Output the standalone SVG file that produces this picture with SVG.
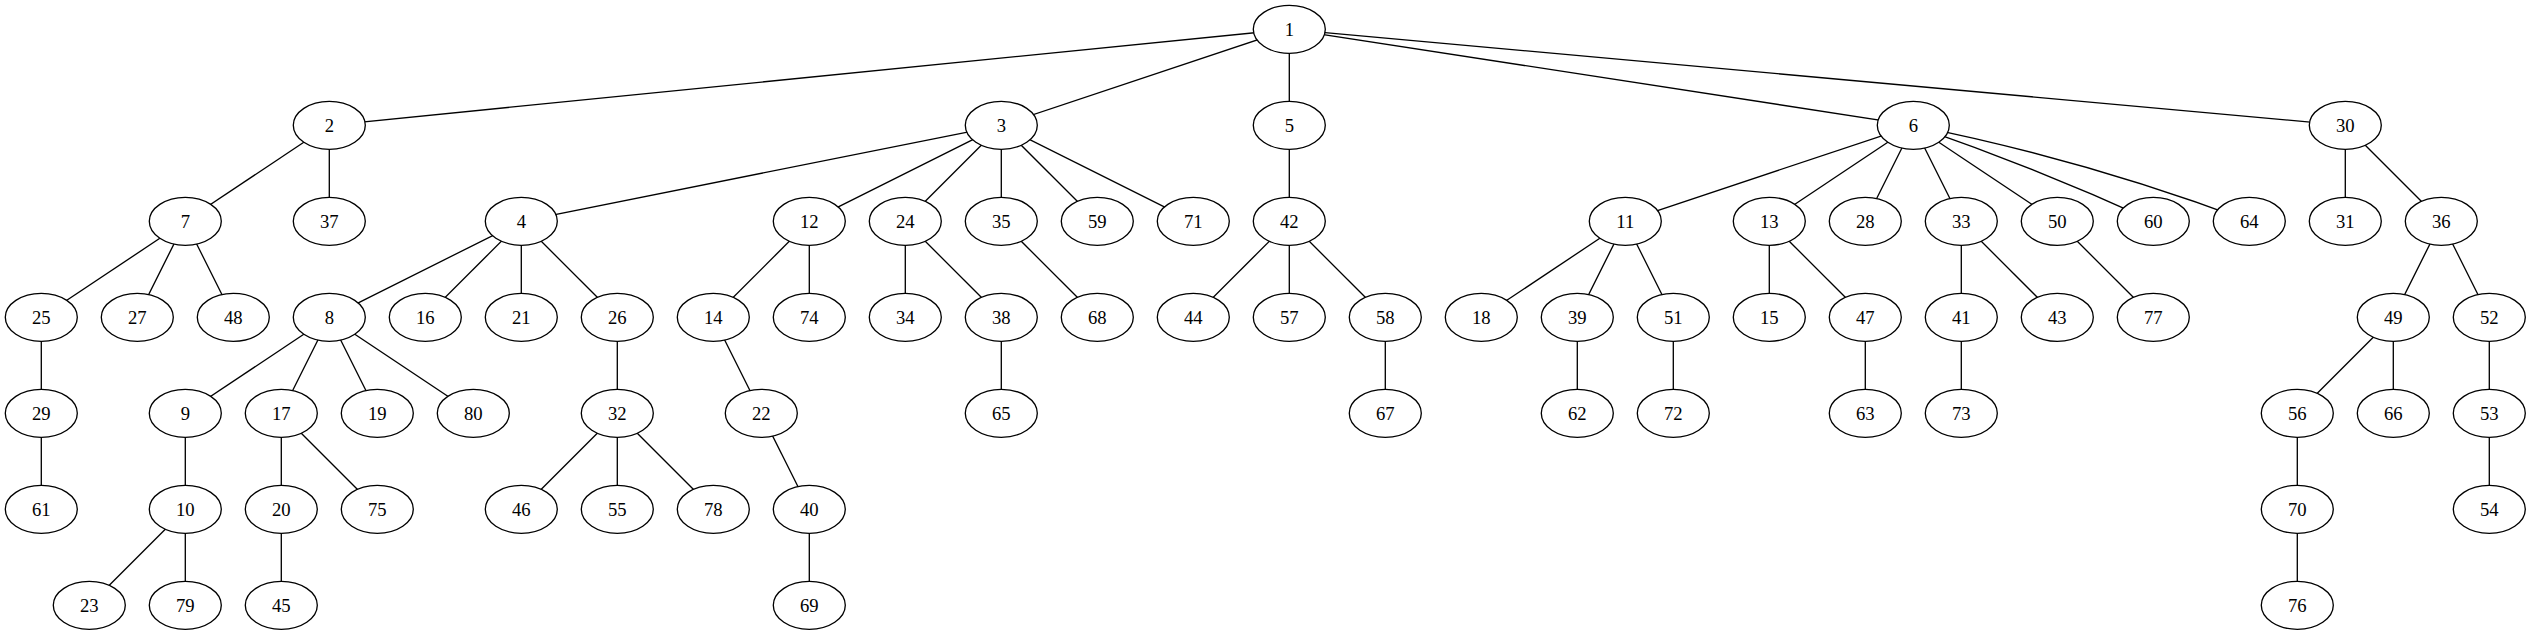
<svg xmlns="http://www.w3.org/2000/svg" width="2531" height="635" viewBox="0 0 2531 635">
<style>
.node ellipse{fill:#fff;stroke:#000;stroke-width:1.33}
.node text{font-family:"Liberation Serif","Times New Roman",serif;font-size:18.67px;text-anchor:middle;fill:#000}
#edges line,#edges path{stroke:#000;stroke-width:1.33;fill:none}
</style>
<rect width="2531" height="635" fill="#fff"/>
<g id="edges">
<line x1="1289.3" y1="29.3" x2="329.3" y2="125.3"/>
<line x1="1289.3" y1="29.3" x2="1001.3" y2="125.3"/>
<line x1="1289.3" y1="29.3" x2="1289.3" y2="125.3"/>
<line x1="1289.3" y1="29.3" x2="1913.3" y2="125.3"/>
<line x1="1289.3" y1="29.3" x2="2345.3" y2="125.3"/>
<line x1="329.3" y1="125.3" x2="185.3" y2="221.3"/>
<line x1="329.3" y1="125.3" x2="329.3" y2="221.3"/>
<line x1="185.3" y1="221.3" x2="41.3" y2="317.3"/>
<line x1="185.3" y1="221.3" x2="137.3" y2="317.3"/>
<line x1="185.3" y1="221.3" x2="233.3" y2="317.3"/>
<line x1="41.3" y1="317.3" x2="41.3" y2="413.3"/>
<line x1="41.3" y1="413.3" x2="41.3" y2="509.3"/>
<line x1="1001.3" y1="125.3" x2="521.3" y2="221.3"/>
<line x1="1001.3" y1="125.3" x2="809.3" y2="221.3"/>
<line x1="1001.3" y1="125.3" x2="905.3" y2="221.3"/>
<line x1="1001.3" y1="125.3" x2="1001.3" y2="221.3"/>
<line x1="1001.3" y1="125.3" x2="1097.3" y2="221.3"/>
<line x1="1001.3" y1="125.3" x2="1193.3" y2="221.3"/>
<line x1="521.3" y1="221.3" x2="329.3" y2="317.3"/>
<line x1="521.3" y1="221.3" x2="425.3" y2="317.3"/>
<line x1="521.3" y1="221.3" x2="521.3" y2="317.3"/>
<line x1="521.3" y1="221.3" x2="617.3" y2="317.3"/>
<line x1="329.3" y1="317.3" x2="185.3" y2="413.3"/>
<line x1="329.3" y1="317.3" x2="281.3" y2="413.3"/>
<line x1="329.3" y1="317.3" x2="377.3" y2="413.3"/>
<line x1="329.3" y1="317.3" x2="473.3" y2="413.3"/>
<line x1="185.3" y1="413.3" x2="185.3" y2="509.3"/>
<line x1="185.3" y1="509.3" x2="89.3" y2="605.3"/>
<line x1="185.3" y1="509.3" x2="185.3" y2="605.3"/>
<line x1="281.3" y1="413.3" x2="281.3" y2="509.3"/>
<line x1="281.3" y1="413.3" x2="377.3" y2="509.3"/>
<line x1="281.3" y1="509.3" x2="281.3" y2="605.3"/>
<line x1="617.3" y1="317.3" x2="617.3" y2="413.3"/>
<line x1="617.3" y1="413.3" x2="521.3" y2="509.3"/>
<line x1="617.3" y1="413.3" x2="617.3" y2="509.3"/>
<line x1="617.3" y1="413.3" x2="713.3" y2="509.3"/>
<line x1="809.3" y1="221.3" x2="713.3" y2="317.3"/>
<line x1="809.3" y1="221.3" x2="809.3" y2="317.3"/>
<line x1="713.3" y1="317.3" x2="761.3" y2="413.3"/>
<line x1="761.3" y1="413.3" x2="809.3" y2="509.3"/>
<line x1="809.3" y1="509.3" x2="809.3" y2="605.3"/>
<line x1="905.3" y1="221.3" x2="905.3" y2="317.3"/>
<line x1="905.3" y1="221.3" x2="1001.3" y2="317.3"/>
<line x1="1001.3" y1="317.3" x2="1001.3" y2="413.3"/>
<line x1="1001.3" y1="221.3" x2="1097.3" y2="317.3"/>
<line x1="1289.3" y1="125.3" x2="1289.3" y2="221.3"/>
<line x1="1289.3" y1="221.3" x2="1193.3" y2="317.3"/>
<line x1="1289.3" y1="221.3" x2="1289.3" y2="317.3"/>
<line x1="1289.3" y1="221.3" x2="1385.3" y2="317.3"/>
<line x1="1385.3" y1="317.3" x2="1385.3" y2="413.3"/>
<line x1="1913.3" y1="125.3" x2="1625.3" y2="221.3"/>
<line x1="1913.3" y1="125.3" x2="1769.3" y2="221.3"/>
<line x1="1913.3" y1="125.3" x2="1865.3" y2="221.3"/>
<line x1="1913.3" y1="125.3" x2="1961.3" y2="221.3"/>
<line x1="1913.3" y1="125.3" x2="2057.3" y2="221.3"/>
<path d="M1913.3,125.3 Q2035.5,167.7 2153.3,221.3"/>
<path d="M1913.3,125.3 Q2085,159.5 2249.3,221.3"/>
<line x1="1625.3" y1="221.3" x2="1481.3" y2="317.3"/>
<line x1="1625.3" y1="221.3" x2="1577.3" y2="317.3"/>
<line x1="1625.3" y1="221.3" x2="1673.3" y2="317.3"/>
<line x1="1577.3" y1="317.3" x2="1577.3" y2="413.3"/>
<line x1="1673.3" y1="317.3" x2="1673.3" y2="413.3"/>
<line x1="1769.3" y1="221.3" x2="1769.3" y2="317.3"/>
<line x1="1769.3" y1="221.3" x2="1865.3" y2="317.3"/>
<line x1="1865.3" y1="317.3" x2="1865.3" y2="413.3"/>
<line x1="1961.3" y1="221.3" x2="1961.3" y2="317.3"/>
<line x1="1961.3" y1="221.3" x2="2057.3" y2="317.3"/>
<line x1="1961.3" y1="317.3" x2="1961.3" y2="413.3"/>
<line x1="2057.3" y1="221.3" x2="2153.3" y2="317.3"/>
<line x1="2345.3" y1="125.3" x2="2345.3" y2="221.3"/>
<line x1="2345.3" y1="125.3" x2="2441.3" y2="221.3"/>
<line x1="2441.3" y1="221.3" x2="2393.3" y2="317.3"/>
<line x1="2441.3" y1="221.3" x2="2489.3" y2="317.3"/>
<line x1="2393.3" y1="317.3" x2="2297.3" y2="413.3"/>
<line x1="2393.3" y1="317.3" x2="2393.3" y2="413.3"/>
<line x1="2297.3" y1="413.3" x2="2297.3" y2="509.3"/>
<line x1="2297.3" y1="509.3" x2="2297.3" y2="605.3"/>
<line x1="2489.3" y1="317.3" x2="2489.3" y2="413.3"/>
<line x1="2489.3" y1="413.3" x2="2489.3" y2="509.3"/>
</g>
<g id="n1" class="node"><ellipse cx="1289.3" cy="29.3" rx="36" ry="24"/><text x="1289.3" y="35.8">1</text></g>
<g id="n2" class="node"><ellipse cx="329.3" cy="125.3" rx="36" ry="24"/><text x="329.3" y="131.8">2</text></g>
<g id="n3" class="node"><ellipse cx="1001.3" cy="125.3" rx="36" ry="24"/><text x="1001.3" y="131.8">3</text></g>
<g id="n5" class="node"><ellipse cx="1289.3" cy="125.3" rx="36" ry="24"/><text x="1289.3" y="131.8">5</text></g>
<g id="n6" class="node"><ellipse cx="1913.3" cy="125.3" rx="36" ry="24"/><text x="1913.3" y="131.8">6</text></g>
<g id="n30" class="node"><ellipse cx="2345.3" cy="125.3" rx="36" ry="24"/><text x="2345.3" y="131.8">30</text></g>
<g id="n7" class="node"><ellipse cx="185.3" cy="221.3" rx="36" ry="24"/><text x="185.3" y="227.8">7</text></g>
<g id="n37" class="node"><ellipse cx="329.3" cy="221.3" rx="36" ry="24"/><text x="329.3" y="227.8">37</text></g>
<g id="n4" class="node"><ellipse cx="521.3" cy="221.3" rx="36" ry="24"/><text x="521.3" y="227.8">4</text></g>
<g id="n12" class="node"><ellipse cx="809.3" cy="221.3" rx="36" ry="24"/><text x="809.3" y="227.8">12</text></g>
<g id="n24" class="node"><ellipse cx="905.3" cy="221.3" rx="36" ry="24"/><text x="905.3" y="227.8">24</text></g>
<g id="n35" class="node"><ellipse cx="1001.3" cy="221.3" rx="36" ry="24"/><text x="1001.3" y="227.8">35</text></g>
<g id="n59" class="node"><ellipse cx="1097.3" cy="221.3" rx="36" ry="24"/><text x="1097.3" y="227.8">59</text></g>
<g id="n71" class="node"><ellipse cx="1193.3" cy="221.3" rx="36" ry="24"/><text x="1193.3" y="227.8">71</text></g>
<g id="n42" class="node"><ellipse cx="1289.3" cy="221.3" rx="36" ry="24"/><text x="1289.3" y="227.8">42</text></g>
<g id="n11" class="node"><ellipse cx="1625.3" cy="221.3" rx="36" ry="24"/><text x="1625.3" y="227.8">11</text></g>
<g id="n13" class="node"><ellipse cx="1769.3" cy="221.3" rx="36" ry="24"/><text x="1769.3" y="227.8">13</text></g>
<g id="n28" class="node"><ellipse cx="1865.3" cy="221.3" rx="36" ry="24"/><text x="1865.3" y="227.8">28</text></g>
<g id="n33" class="node"><ellipse cx="1961.3" cy="221.3" rx="36" ry="24"/><text x="1961.3" y="227.8">33</text></g>
<g id="n50" class="node"><ellipse cx="2057.3" cy="221.3" rx="36" ry="24"/><text x="2057.3" y="227.8">50</text></g>
<g id="n60" class="node"><ellipse cx="2153.3" cy="221.3" rx="36" ry="24"/><text x="2153.3" y="227.8">60</text></g>
<g id="n64" class="node"><ellipse cx="2249.3" cy="221.3" rx="36" ry="24"/><text x="2249.3" y="227.8">64</text></g>
<g id="n31" class="node"><ellipse cx="2345.3" cy="221.3" rx="36" ry="24"/><text x="2345.3" y="227.8">31</text></g>
<g id="n36" class="node"><ellipse cx="2441.3" cy="221.3" rx="36" ry="24"/><text x="2441.3" y="227.8">36</text></g>
<g id="n25" class="node"><ellipse cx="41.3" cy="317.3" rx="36" ry="24"/><text x="41.3" y="323.8">25</text></g>
<g id="n27" class="node"><ellipse cx="137.3" cy="317.3" rx="36" ry="24"/><text x="137.3" y="323.8">27</text></g>
<g id="n48" class="node"><ellipse cx="233.3" cy="317.3" rx="36" ry="24"/><text x="233.3" y="323.8">48</text></g>
<g id="n8" class="node"><ellipse cx="329.3" cy="317.3" rx="36" ry="24"/><text x="329.3" y="323.8">8</text></g>
<g id="n16" class="node"><ellipse cx="425.3" cy="317.3" rx="36" ry="24"/><text x="425.3" y="323.8">16</text></g>
<g id="n21" class="node"><ellipse cx="521.3" cy="317.3" rx="36" ry="24"/><text x="521.3" y="323.8">21</text></g>
<g id="n26" class="node"><ellipse cx="617.3" cy="317.3" rx="36" ry="24"/><text x="617.3" y="323.8">26</text></g>
<g id="n14" class="node"><ellipse cx="713.3" cy="317.3" rx="36" ry="24"/><text x="713.3" y="323.8">14</text></g>
<g id="n74" class="node"><ellipse cx="809.3" cy="317.3" rx="36" ry="24"/><text x="809.3" y="323.8">74</text></g>
<g id="n34" class="node"><ellipse cx="905.3" cy="317.3" rx="36" ry="24"/><text x="905.3" y="323.8">34</text></g>
<g id="n38" class="node"><ellipse cx="1001.3" cy="317.3" rx="36" ry="24"/><text x="1001.3" y="323.8">38</text></g>
<g id="n68" class="node"><ellipse cx="1097.3" cy="317.3" rx="36" ry="24"/><text x="1097.3" y="323.8">68</text></g>
<g id="n44" class="node"><ellipse cx="1193.3" cy="317.3" rx="36" ry="24"/><text x="1193.3" y="323.8">44</text></g>
<g id="n57" class="node"><ellipse cx="1289.3" cy="317.3" rx="36" ry="24"/><text x="1289.3" y="323.8">57</text></g>
<g id="n58" class="node"><ellipse cx="1385.3" cy="317.3" rx="36" ry="24"/><text x="1385.3" y="323.8">58</text></g>
<g id="n18" class="node"><ellipse cx="1481.3" cy="317.3" rx="36" ry="24"/><text x="1481.3" y="323.8">18</text></g>
<g id="n39" class="node"><ellipse cx="1577.3" cy="317.3" rx="36" ry="24"/><text x="1577.3" y="323.8">39</text></g>
<g id="n51" class="node"><ellipse cx="1673.3" cy="317.3" rx="36" ry="24"/><text x="1673.3" y="323.8">51</text></g>
<g id="n15" class="node"><ellipse cx="1769.3" cy="317.3" rx="36" ry="24"/><text x="1769.3" y="323.8">15</text></g>
<g id="n47" class="node"><ellipse cx="1865.3" cy="317.3" rx="36" ry="24"/><text x="1865.3" y="323.8">47</text></g>
<g id="n41" class="node"><ellipse cx="1961.3" cy="317.3" rx="36" ry="24"/><text x="1961.3" y="323.8">41</text></g>
<g id="n43" class="node"><ellipse cx="2057.3" cy="317.3" rx="36" ry="24"/><text x="2057.3" y="323.8">43</text></g>
<g id="n77" class="node"><ellipse cx="2153.3" cy="317.3" rx="36" ry="24"/><text x="2153.3" y="323.8">77</text></g>
<g id="n49" class="node"><ellipse cx="2393.3" cy="317.3" rx="36" ry="24"/><text x="2393.3" y="323.8">49</text></g>
<g id="n52" class="node"><ellipse cx="2489.3" cy="317.3" rx="36" ry="24"/><text x="2489.3" y="323.8">52</text></g>
<g id="n29" class="node"><ellipse cx="41.3" cy="413.3" rx="36" ry="24"/><text x="41.3" y="419.8">29</text></g>
<g id="n9" class="node"><ellipse cx="185.3" cy="413.3" rx="36" ry="24"/><text x="185.3" y="419.8">9</text></g>
<g id="n17" class="node"><ellipse cx="281.3" cy="413.3" rx="36" ry="24"/><text x="281.3" y="419.8">17</text></g>
<g id="n19" class="node"><ellipse cx="377.3" cy="413.3" rx="36" ry="24"/><text x="377.3" y="419.8">19</text></g>
<g id="n80" class="node"><ellipse cx="473.3" cy="413.3" rx="36" ry="24"/><text x="473.3" y="419.8">80</text></g>
<g id="n32" class="node"><ellipse cx="617.3" cy="413.3" rx="36" ry="24"/><text x="617.3" y="419.8">32</text></g>
<g id="n22" class="node"><ellipse cx="761.3" cy="413.3" rx="36" ry="24"/><text x="761.3" y="419.8">22</text></g>
<g id="n65" class="node"><ellipse cx="1001.3" cy="413.3" rx="36" ry="24"/><text x="1001.3" y="419.8">65</text></g>
<g id="n67" class="node"><ellipse cx="1385.3" cy="413.3" rx="36" ry="24"/><text x="1385.3" y="419.8">67</text></g>
<g id="n62" class="node"><ellipse cx="1577.3" cy="413.3" rx="36" ry="24"/><text x="1577.3" y="419.8">62</text></g>
<g id="n72" class="node"><ellipse cx="1673.3" cy="413.3" rx="36" ry="24"/><text x="1673.3" y="419.8">72</text></g>
<g id="n63" class="node"><ellipse cx="1865.3" cy="413.3" rx="36" ry="24"/><text x="1865.3" y="419.8">63</text></g>
<g id="n73" class="node"><ellipse cx="1961.3" cy="413.3" rx="36" ry="24"/><text x="1961.3" y="419.8">73</text></g>
<g id="n56" class="node"><ellipse cx="2297.3" cy="413.3" rx="36" ry="24"/><text x="2297.3" y="419.8">56</text></g>
<g id="n66" class="node"><ellipse cx="2393.3" cy="413.3" rx="36" ry="24"/><text x="2393.3" y="419.8">66</text></g>
<g id="n53" class="node"><ellipse cx="2489.3" cy="413.3" rx="36" ry="24"/><text x="2489.3" y="419.8">53</text></g>
<g id="n61" class="node"><ellipse cx="41.3" cy="509.3" rx="36" ry="24"/><text x="41.3" y="515.8">61</text></g>
<g id="n10" class="node"><ellipse cx="185.3" cy="509.3" rx="36" ry="24"/><text x="185.3" y="515.8">10</text></g>
<g id="n20" class="node"><ellipse cx="281.3" cy="509.3" rx="36" ry="24"/><text x="281.3" y="515.8">20</text></g>
<g id="n75" class="node"><ellipse cx="377.3" cy="509.3" rx="36" ry="24"/><text x="377.3" y="515.8">75</text></g>
<g id="n46" class="node"><ellipse cx="521.3" cy="509.3" rx="36" ry="24"/><text x="521.3" y="515.8">46</text></g>
<g id="n55" class="node"><ellipse cx="617.3" cy="509.3" rx="36" ry="24"/><text x="617.3" y="515.8">55</text></g>
<g id="n78" class="node"><ellipse cx="713.3" cy="509.3" rx="36" ry="24"/><text x="713.3" y="515.8">78</text></g>
<g id="n40" class="node"><ellipse cx="809.3" cy="509.3" rx="36" ry="24"/><text x="809.3" y="515.8">40</text></g>
<g id="n70" class="node"><ellipse cx="2297.3" cy="509.3" rx="36" ry="24"/><text x="2297.3" y="515.8">70</text></g>
<g id="n54" class="node"><ellipse cx="2489.3" cy="509.3" rx="36" ry="24"/><text x="2489.3" y="515.8">54</text></g>
<g id="n23" class="node"><ellipse cx="89.3" cy="605.3" rx="36" ry="24"/><text x="89.3" y="611.8">23</text></g>
<g id="n79" class="node"><ellipse cx="185.3" cy="605.3" rx="36" ry="24"/><text x="185.3" y="611.8">79</text></g>
<g id="n45" class="node"><ellipse cx="281.3" cy="605.3" rx="36" ry="24"/><text x="281.3" y="611.8">45</text></g>
<g id="n69" class="node"><ellipse cx="809.3" cy="605.3" rx="36" ry="24"/><text x="809.3" y="611.8">69</text></g>
<g id="n76" class="node"><ellipse cx="2297.3" cy="605.3" rx="36" ry="24"/><text x="2297.3" y="611.8">76</text></g>
</svg>
